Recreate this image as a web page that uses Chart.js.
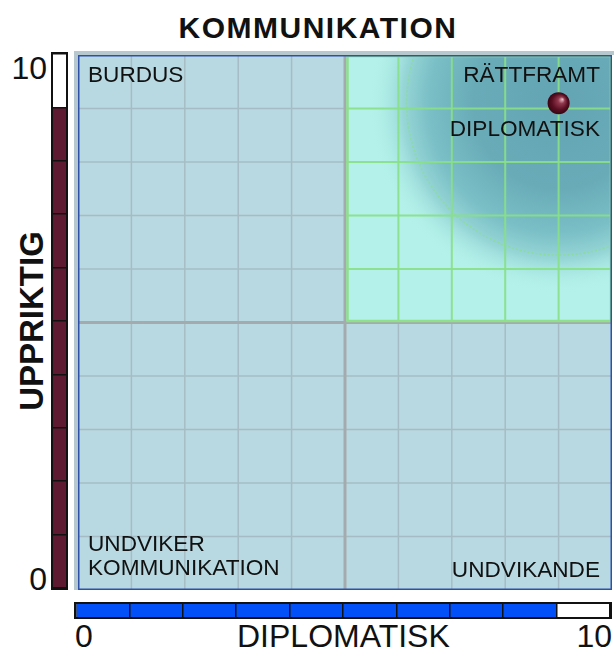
<!DOCTYPE html>
<html>
<head>
<meta charset="utf-8">
<script src="https://cdn.jsdelivr.net/npm/chart.js@4/dist/chart.umd.min.js"></script>
<style>
  body { margin: 0; background: #fff; }
  #page { position: relative; width: 614px; height: 650px; overflow: hidden; font-family: "Liberation Sans", Arial, sans-serif; color: #111; }
  .txt { position: absolute; line-height: 1; white-space: nowrap; }
  #frame { position: absolute; left: 74px; top: 51px; width: 540px; height: 539px; border-left: 4px solid #b7c8cf; border-top: 4px solid #b7c8cf; box-sizing: border-box; }
  #mainWrap { position: absolute; left: 78px; top: 55px; }
  #leftWrap { position: absolute; left: 51px; top: 52px; border: 2px solid #111; background: #fff; }
  #bottomWrap { position: absolute; left: 74px; top: 602px; border: 2px solid #111; background: #fff; }
  canvas { display: block; }
</style>
</head>
<body>
<div id="page">
  <div id="frame"></div>
  <div id="mainWrap"><canvas id="mainChart" width="534" height="535"></canvas></div>
  <div id="leftWrap"><canvas id="leftBar" width="13" height="534"></canvas></div>
  <div id="bottomWrap"><canvas id="bottomBar" width="534" height="13"></canvas></div>

  <div class="txt" id="title" style="left:318px; top:13px; font-size:30px; font-weight:bold; letter-spacing:1.5px; transform:translateX(-50%);"></div>
  <div class="txt" id="yLabel" style="left:31px; top:321px; font-size:33px; font-weight:bold; transform:translate(-50%,-50%) rotate(-90deg);"></div>
  <div class="txt" id="yTickTop" style="right:567px; top:52px; font-size:32px;"></div>
  <div class="txt" id="yTickBottom" style="right:567px; top:563px; font-size:32px;"></div>
  <div class="txt" id="xTickLeft" style="left:75px; top:620px; font-size:32px;"></div>
  <div class="txt" id="xLabel" style="left:237px; top:620px; font-size:32px;"></div>
  <div class="txt" id="xTickRight" style="right:2px; top:620px; font-size:32px;"></div>

  <div class="txt" id="qTopLeft" style="left:88px; top:64px; font-size:22.6px;"></div>
  <div class="txt" id="qTopRight" style="right:14px; top:64px; font-size:22.6px;"></div>
  <div class="txt" id="pointLabel" style="right:14px; top:118px; font-size:22.6px;"></div>
  <div class="txt" id="qBottomLeft1" style="left:88px; top:533px; font-size:22.6px;"></div>
  <div class="txt" id="qBottomLeft2" style="left:88px; top:557px; font-size:22.6px;"></div>
  <div class="txt" id="qBottomRight" style="right:14px; top:559px; font-size:22.6px;"></div>
</div>
<script>
// chart data
var chartTitle = 'KOMMUNIKATION';
var xAxisName = 'DIPLOMATISK';
var yAxisName = 'UPPRIKTIG';
var xTickLabels = ['0', '10'];
var yTickLabels = ['0', '10'];
var axisMin = 0, axisMax = 10, axisMid = 5;
var scoreX = [9.0];
var scoreY = [9.1];
var barDiplomatisk = [9];
var barUppriktig = [9];
var quadrantNames = ['BURDUS', 'RÄTTFRAMT', 'UNDVIKER', 'KOMMUNIKATION', 'UNDVIKANDE'];
var pointNames = ['DIPLOMATISK'];

function setText(id, t) { document.getElementById(id).textContent = t; }
setText('title', chartTitle);
setText('yLabel', yAxisName);
setText('xLabel', xAxisName);
setText('yTickTop', yTickLabels[1]);
setText('yTickBottom', yTickLabels[0]);
setText('xTickLeft', xTickLabels[0]);
setText('xTickRight', xTickLabels[1]);
setText('qTopLeft', quadrantNames[0]);
setText('qTopRight', quadrantNames[1]);
setText('qBottomLeft1', quadrantNames[2]);
setText('qBottomLeft2', quadrantNames[3]);
setText('qBottomRight', quadrantNames[4]);
setText('pointLabel', pointNames[0]);

var quadrantPlugin = {
    id: 'quadrants',
    beforeDatasetsDraw: function (chart) {
        var ctx = chart.ctx, a = chart.chartArea;
        var x = chart.scales.x, y = chart.scales.y;
        var mx = x.getPixelForValue(axisMid), my = y.getPixelForValue(axisMid);
        var v, p;
        ctx.save();
        // base background
        ctx.fillStyle = '#b8d9e2';
        ctx.fillRect(a.left, a.top, a.right - a.left, a.bottom - a.top);
        // grey grid
        ctx.strokeStyle = '#a6bcc4';
        ctx.lineWidth = 1.5;
        for (v = axisMin + 1; v < axisMax; v++) {
            p = x.getPixelForValue(v);
            ctx.beginPath(); ctx.moveTo(p, a.top); ctx.lineTo(p, a.bottom); ctx.stroke();
            p = y.getPixelForValue(v);
            ctx.beginPath(); ctx.moveTo(a.left, p); ctx.lineTo(a.right, p); ctx.stroke();
        }
        // upper right quadrant
        ctx.save();
        ctx.beginPath();
        ctx.rect(mx, a.top, a.right - mx, my - a.top);
        ctx.clip();
        ctx.fillStyle = '#b4f1ea';
        ctx.fillRect(mx, a.top, a.right - mx, my - a.top);
        var cx = x.getPixelForValue(scoreX[0]), cy = y.getPixelForValue(scoreY[0]);
        var g = ctx.createRadialGradient(cx, cy, 0, cx, cy, 190);
        g.addColorStop(0, '#64a4b3');
        g.addColorStop(0.45, '#69acb8');
        g.addColorStop(0.68, '#7abfc6');
        g.addColorStop(0.82, '#96d6d6');
        g.addColorStop(1, 'rgba(180,241,234,0)');
        ctx.fillStyle = g;
        ctx.fillRect(mx, a.top, a.right - mx, my - a.top);
        ctx.strokeStyle = 'rgba(140,222,140,0.7)';
        ctx.lineWidth = 1.5;
        ctx.setLineDash([2, 2]);
        ctx.beginPath(); ctx.arc(cx, cy, 152, 0, Math.PI * 2); ctx.stroke();
        ctx.setLineDash([]);
        ctx.strokeStyle = 'rgba(136,224,134,0.9)';
        ctx.lineWidth = 2;
        for (v = axisMid + 1; v < axisMax; v++) {
            p = x.getPixelForValue(v);
            ctx.beginPath(); ctx.moveTo(p, a.top); ctx.lineTo(p, my); ctx.stroke();
            p = y.getPixelForValue(v);
            ctx.beginPath(); ctx.moveTo(mx, p); ctx.lineTo(a.right, p); ctx.stroke();
        }
        ctx.restore();
        // divider lines
        ctx.strokeStyle = '#a4abae';
        ctx.lineWidth = 3;
        ctx.beginPath(); ctx.moveTo(mx, a.top); ctx.lineTo(mx, a.bottom); ctx.stroke();
        ctx.beginPath(); ctx.moveTo(a.left, my); ctx.lineTo(a.right, my); ctx.stroke();
        // green border of upper right
        ctx.strokeStyle = '#8ee08a';
        ctx.lineWidth = 2.5;
        ctx.strokeRect(mx + 2.5, a.top + 1, a.right - mx - 3.5, my - a.top - 2.5);
        // blue frame
        ctx.strokeStyle = '#2f50a8';
        ctx.lineWidth = 1.5;
        ctx.strokeRect(a.left + 0.75, a.top + 0.75, a.right - a.left - 1.5, a.bottom - a.top - 1.5);
        ctx.restore();
    }
};

function sphereColor(context) {
    var chart = context.chart;
    var flat = '#4a0d1c';
    if (!chart.scales || !chart.scales.x || !chart.scales.y || !context.parsed) return flat;
    var px = chart.scales.x.getPixelForValue(context.parsed.x);
    var py = chart.scales.y.getPixelForValue(context.parsed.y);
    if (!isFinite(px) || !isFinite(py)) return flat;
    var g = chart.ctx.createRadialGradient(px + 4, py - 4, 0, px, py, 11);
    g.addColorStop(0, '#eec3cb');
    g.addColorStop(0.3, '#92384e');
    g.addColorStop(0.7, '#5a0f22');
    g.addColorStop(1, '#3a0513');
    return g;
}

new Chart(document.getElementById('mainChart'), {
    type: 'scatter',
    data: {
        datasets: [{
            data: [{ x: scoreX[0], y: scoreY[0] }],
            pointRadius: 11,
            borderWidth: 0,
            backgroundColor: sphereColor
        }]
    },
    options: {
        responsive: false,
        animation: false,
        layout: { padding: 0, autoPadding: false },
        plugins: { legend: { display: false }, tooltip: { enabled: false } },
        scales: {
            x: { display: false, min: axisMin, max: axisMax },
            y: { display: false, min: axisMin, max: axisMax }
        }
    },
    plugins: [quadrantPlugin]
});

function segmentGrid() {
    return { color: '#111', lineWidth: 1.5, z: 1, drawTicks: false };
}

new Chart(document.getElementById('leftBar'), {
    type: 'bar',
    data: {
        labels: [yAxisName],
        datasets: [{ data: barUppriktig, backgroundColor: '#5e1a31', borderWidth: 0, barPercentage: 1, categoryPercentage: 1 }]
    },
    options: {
        responsive: false,
        animation: false,
        layout: { padding: 0, autoPadding: false },
        plugins: { legend: { display: false }, tooltip: { enabled: false } },
        scales: {
            x: { display: false },
            y: { min: axisMin, max: axisMax, ticks: { display: false, stepSize: 1 }, grid: segmentGrid(), border: { display: false } }
        }
    }
});

new Chart(document.getElementById('bottomBar'), {
    type: 'bar',
    data: {
        labels: [xAxisName],
        datasets: [{ data: barDiplomatisk, backgroundColor: '#0250f8', borderWidth: 0, barPercentage: 1, categoryPercentage: 1 }]
    },
    options: {
        indexAxis: 'y',
        responsive: false,
        animation: false,
        layout: { padding: 0, autoPadding: false },
        plugins: { legend: { display: false }, tooltip: { enabled: false } },
        scales: {
            y: { display: false },
            x: { min: axisMin, max: axisMax, ticks: { display: false, stepSize: 1 }, grid: segmentGrid(), border: { display: false } }
        }
    }
});
</script>
</body>
</html>
